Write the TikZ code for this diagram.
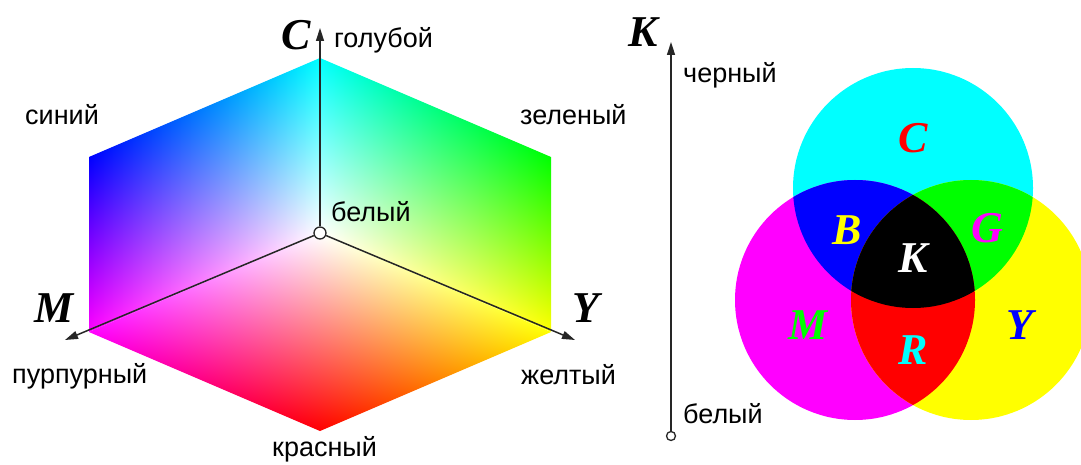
\documentclass[tikz,border=0pt]{standalone}
\usepackage{fontspec}
\setmainfont{Liberation Sans}
\newfontfamily\letterfont{Liberation Serif}
\usetikzlibrary{positioning,arrows.meta}
\definecolor{ccyan}{RGB}{0,255,255}
\definecolor{cmagenta}{RGB}{255,0,255}
\definecolor{cyellow}{RGB}{255,255,0}
\definecolor{cred}{RGB}{255,0,0}
\definecolor{cgreen}{RGB}{0,255,0}
\definecolor{cblue}{RGB}{0,0,255}

\begin{document}
\begin{tikzpicture}[x=1pt, y=1pt,
  lbl/.style={font=\fontsize{27}{30}\selectfont, inner sep=0pt, anchor=base west},
  letter/.style={font=\fontsize{44}{46}\letterfont\bfseries\itshape, inner sep=0pt},
  axis/.style={-{Triangle[length=13pt, width=8pt]}, line width=1.5pt, black!85},
  dot/.style={circle, draw=black!85, fill=white, line width=1.3pt, inner sep=0pt},
  face/.style={transform canvas={cm={#1,(320,231)}}},
]
\useasboundingbox (0,0) rectangle (1081,464);

% CMY cube faces
\begin{scope}[face={-2.31,-0.99,0,1.75}]
  \shade[bottom color=white, top color=ccyan] (0,0) rectangle (100,100);
  \begin{scope}[blend mode=multiply]
    \shade[left color=white, right color=cmagenta] (0,0) rectangle (100,100);
  \end{scope}
\end{scope}
\begin{scope}[face={2.31,-0.99,0,1.75}]
  \shade[bottom color=white, top color=ccyan] (0,0) rectangle (100,100);
  \begin{scope}[blend mode=multiply]
    \shade[left color=white, right color=cyellow] (0,0) rectangle (100,100);
  \end{scope}
\end{scope}
\begin{scope}[face={-2.31,-0.99,2.31,-0.99}]
  \shade[left color=white, right color=cmagenta] (0,0) rectangle (100,100);
  \begin{scope}[blend mode=multiply]
    \shade[bottom color=white, top color=cyellow] (0,0) rectangle (100,100);
  \end{scope}
\end{scope}

% cube axes
\coordinate (ctip) at (320,436);
\coordinate (mtip) at (65,124);
\coordinate (ytip) at (575,124);
\node[dot, minimum size=12pt] (w) at (320,231) {};
\draw[axis] (w) -- (ctip);
\draw[axis] (w) -- (mtip);
\draw[axis] (w) -- (ytip);

\node[letter] (lc) at (296,429) {C};
\node[letter] (lm) at (54,156) {M};
\node[letter] (ly) at (586,156) {Y};
\node[lbl] (cyan) at (334,416) {голубой};
\node[lbl] (blue) at (25,339) {синий};
\node[lbl] (green) at (520,339) {зеленый};
\node[lbl] (white) at (331,242) {белый};
\node[lbl] (magenta) at (12,81) {пурпурный};
\node[lbl] (yellow) at (521,80) {желтый};
\node[lbl] (red) at (272,8) {красный};

% K axis
\coordinate (ktip) at (671,422);
\node[dot, minimum size=9pt] (kdot) at (671,28) {};
\draw[axis] (kdot) -- (ktip);
\node[letter] (lk) at (643,432) {K};
\node[lbl] (black) at (683,381) {черный};
\node[lbl] (kwhite) at (683,41) {белый};

% CMY circles
\def\rad{120}
\fill[ccyan] (913,276) circle (\rad);
\fill[cmagenta] (855,164) circle (\rad);
\fill[cyellow] (971,164) circle (\rad);
\begin{scope}
  \clip (913,276) circle (\rad);
  \fill[cblue] (855,164) circle (\rad);
  \fill[cgreen] (971,164) circle (\rad);
\end{scope}
\begin{scope}
  \clip (855,164) circle (\rad);
  \fill[cred] (971,164) circle (\rad);
  \clip (971,164) circle (\rad);
  \fill[black] (913,276) circle (\rad);
\end{scope}

\node[letter, text=cred] (cc) at (913,326) {C};
\node[letter, text=cyellow] (cb) at (847,234) {B};
\node[letter, text=cmagenta] (cg) at (987,236) {G};
\node[letter, text=white] (ck) at (913,206) {K};
\node[letter, text=cgreen] (cm) at (808,139) {M};
\node[letter, text=ccyan] (cr) at (913,114) {R};
\node[letter, text=cblue] (cy) at (1020,139) {Y};
\end{tikzpicture}
\end{document}
